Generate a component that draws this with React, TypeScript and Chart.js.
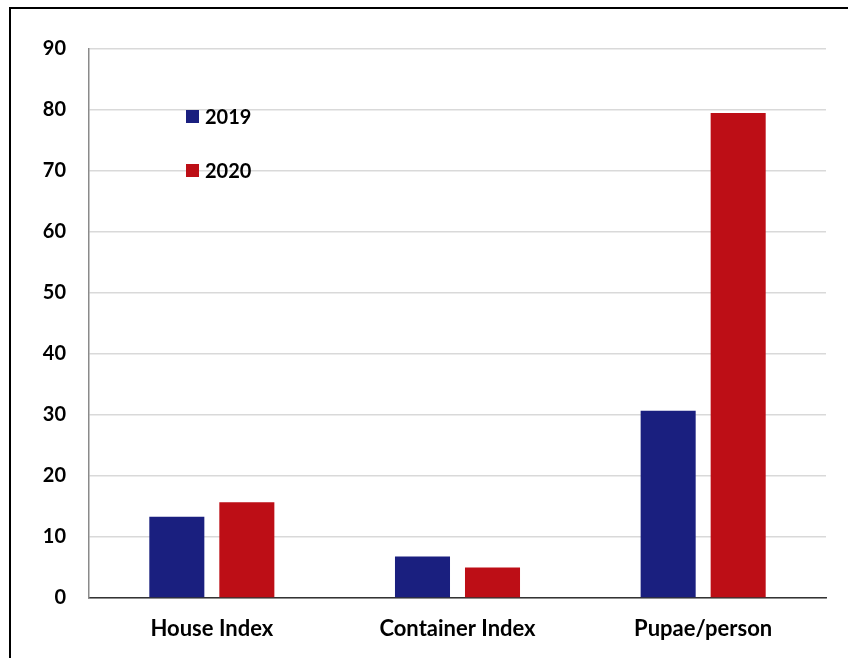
import React, { useEffect, useRef } from "react";
import { Chart, registerables } from "chart.js";

Chart.register(...registerables);

const categories = ["House Index", "Container Index", "Pupae/person"];
const series2019 = [13.3, 6.8, 30.7];
const series2020 = [15.7, 5.0, 79.5];
const seriesLabels = ["2019", "2020"];
const seriesColors = ["#1a1f7f", "#bd0e16"];
const yMin = 0;
const yMax = 90;
const yStep = 10;

const FONT = "Lato, 'Open Sans', sans-serif";

const legendPlugin = {
  id: "insideLegend",
  afterDraw(chart: any) {
    const ctx = chart.ctx;
    const yScale = chart.scales.y;
    const xScale = chart.scales.x;
    ctx.save();
    ctx.font = `bold 20px ${FONT}`;
    ctx.textBaseline = "middle";
    ctx.textAlign = "left";
    const x0 = xScale.left + 97;
    const yStart = yScale.getPixelForValue(80) + 6.5;
    seriesLabels.forEach((lab, i) => {
      const cy = yStart + i * 54;
      ctx.fillStyle = seriesColors[i];
      ctx.fillRect(x0, cy - 6.5, 13, 13);
      ctx.fillStyle = "#000";
      ctx.fillText(lab, x0 + 19, cy + 1);
    });
    ctx.restore();
  },
};

export default function App() {
  const ref = useRef<HTMLCanvasElement | null>(null);
  useEffect(() => {
    if (!ref.current) return;
    const chart = new Chart(ref.current, {
      type: "bar",
      data: {
        labels: categories,
        datasets: [
          { label: seriesLabels[0], data: series2019, backgroundColor: seriesColors[0] },
          { label: seriesLabels[1], data: series2020, backgroundColor: seriesColors[1] },
        ],
      },
      options: {
        animation: false,
        responsive: false,
        maintainAspectRatio: false,
        layout: { padding: { left: 0, right: 22, top: 49, bottom: 0 } },
        datasets: { bar: { categoryPercentage: 0.57, barPercentage: 0.786 } },
        plugins: {
          legend: { display: false },
          tooltip: { enabled: false },
        },
        scales: {
          x: {
            grid: { display: false, drawTicks: false },
            border: { display: true, color: "#333333", width: 1.5 },
            ticks: { color: "#000", font: { family: FONT, size: 22, weight: "bold" }, padding: 18 },
            afterFit(scale: any) {
              scale.height = 60;
            },
          },
          y: {
            min: yMin,
            max: yMax,
            grid: { color: "#d9d9d9", lineWidth: 1.5, drawTicks: false },
            border: { display: true, color: "#8a8a8a", width: 1.5 },
            ticks: {
              stepSize: yStep,
              color: "#000",
              font: { family: FONT, size: 20, weight: "bold" },
              padding: 23,
            },
            afterFit(scale: any) {
              scale.width = 89;
            },
          },
        },
      },
      plugins: [legendPlugin],
    });
    return () => chart.destroy();
  }, []);
  return (
    <div style={{ position: "fixed", left: 0, top: 0, width: 848, height: 658, overflow: "hidden", background: "#fff" }}>
      <div
        style={{
          position: "absolute",
          left: 9,
          top: 7,
          width: 900,
          height: 700,
          borderLeft: "2px solid #000",
          borderTop: "2px solid #000",
        }}
      />
      <canvas ref={ref} width={848} height={658} style={{ position: "absolute", left: 0, top: 0 }} />
    </div>
  );
}
